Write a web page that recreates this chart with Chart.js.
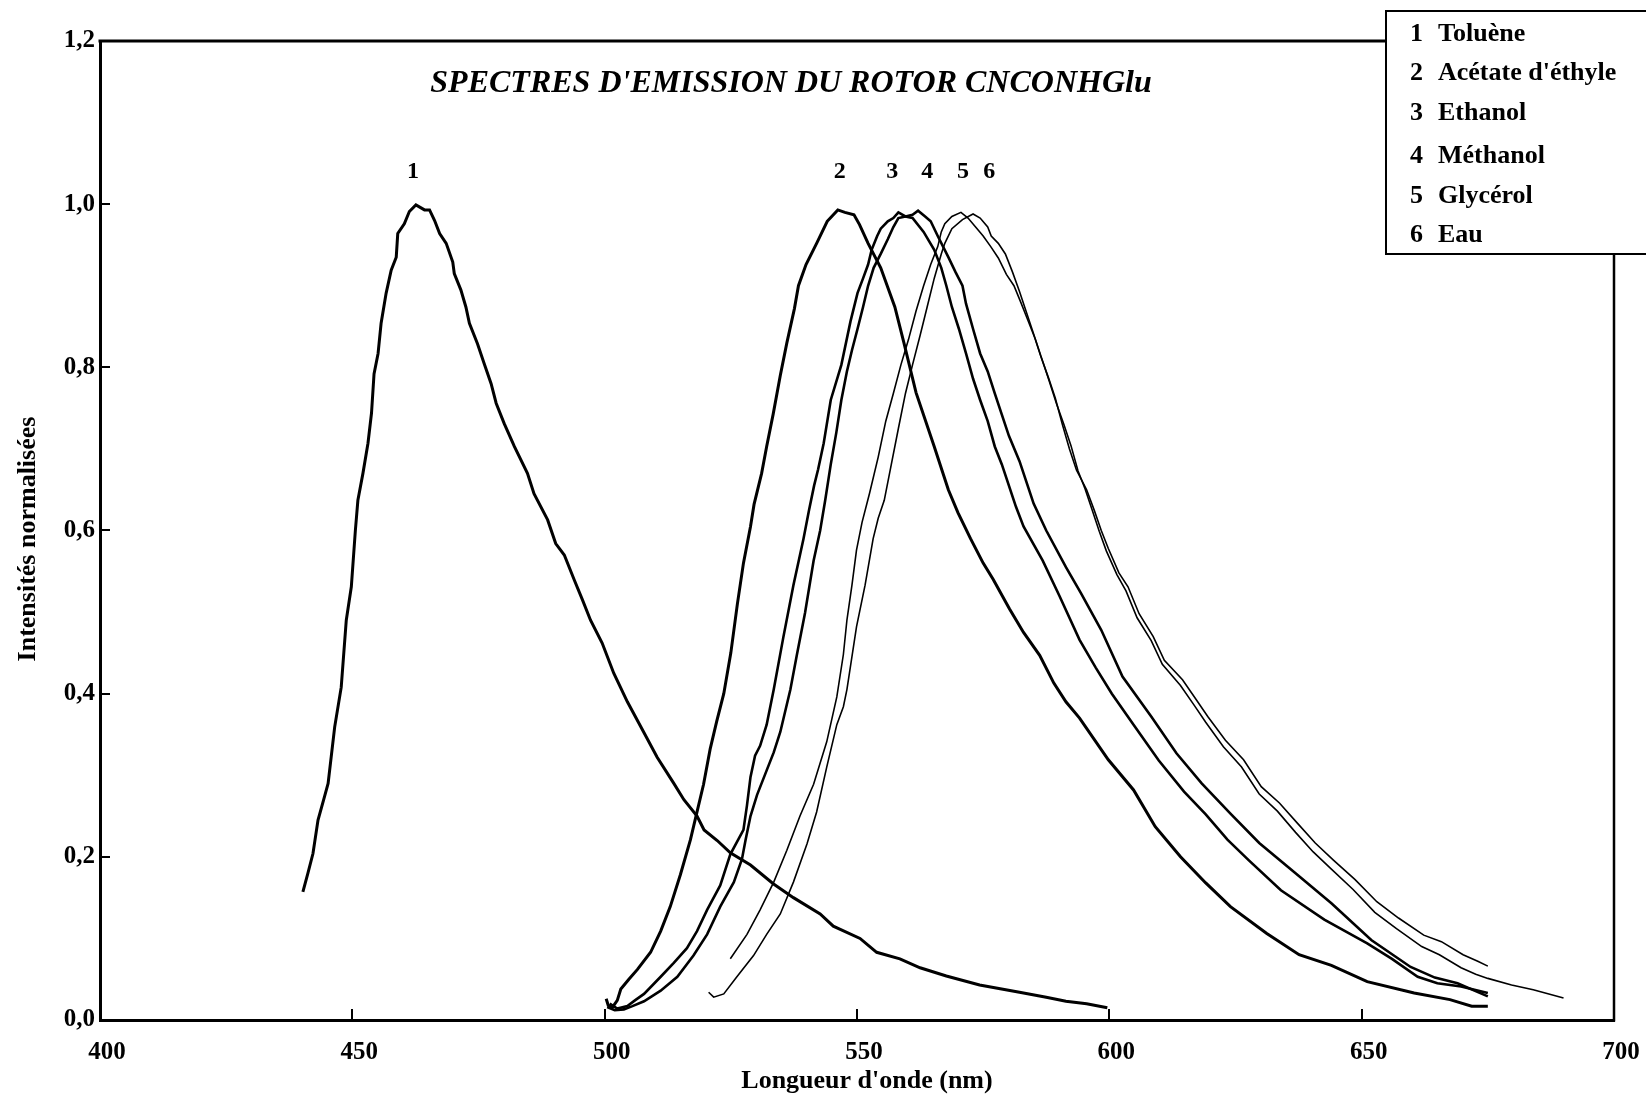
<!DOCTYPE html>
<html lang="fr">
<head>
<meta charset="utf-8">
<title>Spectres d'émission du rotor CNCONHGlu</title>
<script src="https://cdn.jsdelivr.net/npm/chart.js@4.4.1/dist/chart.umd.min.js"></script>
<style>
  html, body { margin: 0; padding: 0; background: #fff; }
  #chart { display: block; }
</style>
</head>
<body>
<canvas id="chart" width="1646" height="1099"></canvas>
<script>
// Values: [wavelength (nm), normalised intensity]
const toluene = [
  [440.2,0.157],[441.2,0.180],[442.2,0.204],[443.2,0.245],[444.5,0.274],[445.2,0.290],[446.5,0.359],
  [447.8,0.408],[448.8,0.490],[449.8,0.531],[450.6,0.600],[451.1,0.637],[452.1,0.670],[453.1,0.707],
  [453.8,0.744],[454.3,0.792],[455.1,0.817],[455.7,0.854],[456.7,0.891],[457.7,0.919],[458.7,0.935],
  [459.0,0.964],[460.3,0.976],[461.3,0.991],[462.6,0.999],[464.3,0.993],[465.3,0.993],[466.3,0.980],
  [467.3,0.964],[468.6,0.952],[469.9,0.929],[470.2,0.915],[471.5,0.895],[472.5,0.874],[473.2,0.854],
  [474.8,0.829],[476.1,0.805],[477.5,0.780],[478.5,0.756],[480.1,0.731],[482.1,0.703],[484.7,0.670],
  [486.0,0.645],[488.7,0.613],[490.3,0.584],[492.0,0.570],[494.0,0.539],[495.6,0.515],[497.2,0.490],
  [499.5,0.462],[501.8,0.425],[504.5,0.390],[507.8,0.352],[510.4,0.322],[513.7,0.290],[515.7,0.270],
  [518.3,0.250],[519.7,0.233],[522.3,0.220],[524.9,0.205],[528.9,0.190],[533.4,0.167],[537.4,0.150],
  [542.7,0.130],[545.3,0.115],[550.6,0.100],[553.9,0.083],[558.5,0.075],[562.5,0.064],[567.7,0.054],
  [574.3,0.043],[582.2,0.034],[587.5,0.028],[591.4,0.023],[595.5,0.020],[599.6,0.015]
];

const acetateEthyle = [
  [500.3,0.026],[500.7,0.018],[501.6,0.016],[502.5,0.024],[503.2,0.038],[504.8,0.050],[506.5,0.062],
  [509.1,0.083],[511.1,0.109],[513.0,0.139],[515.0,0.178],[517.0,0.221],[518.3,0.255],[519.6,0.289],
  [520.9,0.332],[522.2,0.366],[523.6,0.400],[525.0,0.450],[526.3,0.510],[527.5,0.560],[528.9,0.605],
  [529.6,0.632],[531.1,0.670],[532.1,0.703],[533.4,0.743],[534.8,0.790],[536.1,0.830],[537.6,0.872],
  [538.4,0.900],[539.9,0.926],[542.0,0.952],[544.1,0.979],[546.2,0.993],[547.6,0.990],[549.4,0.987],
  [550.5,0.975],[552.2,0.952],[554.7,0.922],[557.5,0.874],[559.3,0.830],[561.7,0.769],[565.3,0.703],
  [568.1,0.650],[570.0,0.622],[572.5,0.590],[575.0,0.560],[577.0,0.540],[580.2,0.504],[583.0,0.475],
  [586.2,0.447],[589.0,0.413],[591.4,0.390],[594.1,0.370],[599.8,0.319],[604.8,0.282],[609.1,0.237],
  [614.1,0.200],[619.1,0.168],[624.0,0.139],[631.2,0.106],[637.6,0.080],[644.0,0.067],[651.1,0.047],
  [660.4,0.033],[667.5,0.025],[671.8,0.017],[675.0,0.017]
];

const ethanol = [
  [501.0,0.020],[502.5,0.014],[504.5,0.017],[506.0,0.024],[507.8,0.032],[511.1,0.053],[513.7,0.070],
  [516.3,0.088],[518.3,0.109],[520.3,0.135],[522.9,0.165],[524.9,0.203],[527.5,0.233],[528.2,0.263],
  [528.9,0.298],[529.8,0.324],[530.8,0.336],[532.1,0.362],[533.5,0.405],[535.4,0.469],[537.4,0.533],
  [539.4,0.590],[540.5,0.625],[541.5,0.655],[542.3,0.675],[543.4,0.707],[544.8,0.760],[546.9,0.803],
  [548.7,0.856],[550.1,0.891],[551.2,0.909],[552.2,0.926],[552.9,0.944],[554.0,0.961],[554.7,0.970],
  [556.1,0.979],[557.2,0.983],[558.2,0.990],[559.6,0.985],[561.0,0.983],[563.2,0.966],[565.3,0.944],
  [566.7,0.922],[567.7,0.900],[568.8,0.874],[570.2,0.847],[571.6,0.817],[573.0,0.786],[574.4,0.760],
  [575.9,0.734],[577.3,0.703],[578.7,0.681],[580.1,0.655],[581.5,0.629],[583.0,0.605],[586.8,0.563],
  [590.1,0.520],[594.1,0.466],[597.3,0.432],[600.5,0.400],[604.8,0.362],[609.8,0.318],[614.8,0.280],
  [619.1,0.252],[623.4,0.221],[627.6,0.196],[634.0,0.159],[642.6,0.123],[651.1,0.094],[656.0,0.075],
  [661.1,0.053],[665.0,0.045],[669.7,0.041],[675.0,0.033]
];

const methanol = [
  [500.5,0.016],[502.0,0.012],[503.8,0.013],[505.5,0.017],[507.8,0.023],[511.1,0.036],[514.4,0.053],
  [517.6,0.079],[520.3,0.105],[522.9,0.139],[525.6,0.169],[527.2,0.197],[527.9,0.220],[528.9,0.250],
  [530.2,0.276],[532.1,0.306],[533.5,0.328],[534.8,0.353],[536.8,0.405],[538.1,0.448],[539.7,0.499],
  [541.4,0.563],[542.7,0.600],[543.7,0.637],[544.8,0.681],[545.9,0.720],[546.9,0.760],[548.0,0.795],
  [549.0,0.821],[550.1,0.847],[551.2,0.874],[552.2,0.900],[553.3,0.922],[554.7,0.939],[556.1,0.957],
  [557.2,0.972],[558.2,0.983],[559.6,0.985],[561.0,0.987],[562.1,0.992],[563.5,0.985],[564.6,0.979],
  [566.0,0.961],[568.1,0.935],[569.5,0.917],[570.9,0.900],[571.6,0.878],[573.0,0.847],[574.4,0.817],
  [575.9,0.795],[577.3,0.768],[578.7,0.742],[580.1,0.716],[582.2,0.685],[583.6,0.659],[585.0,0.633],
  [587.5,0.600],[591.4,0.555],[594.4,0.523],[598.4,0.478],[602.6,0.421],[608.3,0.372],[613.3,0.327],
  [618.3,0.290],[624.0,0.253],[629.7,0.217],[636.9,0.180],[644.0,0.143],[651.9,0.098],[659.7,0.065],
  [664.5,0.052],[669.0,0.045],[675.0,0.029]
];

const glycerol = [
  [524.9,0.075],[528.2,0.105],[530.8,0.135],[533.5,0.169],[536.1,0.208],[538.7,0.250],[541.4,0.289],
  [544.0,0.341],[546.0,0.396],[547.3,0.448],[548.0,0.490],[549.0,0.533],[549.9,0.576],[551.0,0.610],
  [552.5,0.646],[554.2,0.690],[555.7,0.734],[557.2,0.768],[558.7,0.803],[560.2,0.834],[561.7,0.869],
  [563.2,0.900],[564.6,0.926],[566.0,0.948],[566.7,0.966],[567.4,0.976],[568.8,0.985],[570.6,0.990],
  [572.0,0.983],[573.5,0.972],[575.0,0.961],[576.5,0.948],[578.0,0.934],[579.6,0.914],[581.1,0.900],
  [582.5,0.879],[583.9,0.857],[585.3,0.835],[586.7,0.809],[588.1,0.783],[589.5,0.756],[591.0,0.730],
  [592.4,0.704],[593.8,0.673],[595.2,0.651],[596.6,0.625],[598.0,0.599],[599.4,0.575],[601.5,0.546],
  [603.3,0.526],[605.5,0.493],[608.3,0.465],[610.5,0.436],[614.1,0.410],[616.9,0.385],[619.1,0.365],
  [622.6,0.335],[626.2,0.310],[629.7,0.277],[633.3,0.256],[636.9,0.230],[640.4,0.206],[644.0,0.185],
  [648.3,0.160],[652.6,0.132],[656.9,0.112],[661.9,0.090],[665.4,0.080],[669.7,0.064],[672.6,0.056],
  [675.0,0.051],[679.7,0.043],[684.0,0.037],[690.0,0.027]
];

const eau = [
  [520.6,0.034],[521.6,0.028],[523.6,0.032],[526.2,0.053],[529.5,0.079],[532.1,0.105],[534.8,0.130],
  [537.4,0.169],[540.1,0.216],[542.0,0.255],[544.0,0.310],[546.0,0.362],[547.3,0.384],[548.0,0.405],
  [549.9,0.482],[551.6,0.533],[553.2,0.590],[554.2,0.615],[555.4,0.637],[556.8,0.681],[558.2,0.725],
  [559.6,0.768],[561.0,0.803],[562.5,0.839],[563.9,0.874],[565.3,0.909],[566.7,0.939],[567.4,0.952],
  [568.8,0.970],[570.9,0.981],[573.0,0.988],[574.4,0.983],[575.9,0.972],[576.6,0.961],[578.0,0.952],
  [579.4,0.939],[580.8,0.917],[582.2,0.893],[583.6,0.867],[585.0,0.841],[586.4,0.814],[587.9,0.788],
  [589.3,0.762],[590.7,0.730],[592.1,0.700],[593.5,0.674],[595.5,0.650],[597.0,0.625],[598.4,0.600],
  [599.8,0.578],[601.9,0.548],[603.7,0.531],[605.9,0.498],[608.7,0.470],[610.9,0.441],[614.5,0.417],
  [617.3,0.392],[619.5,0.372],[623.0,0.343],[626.6,0.319],[630.1,0.286],[633.7,0.266],[637.3,0.241],
  [640.8,0.217],[644.4,0.196],[648.7,0.172],[653.0,0.145],[657.3,0.125],[662.3,0.104],[665.8,0.096],
  [670.1,0.080],[673.0,0.072],[675.0,0.066]
];

const solventNames = ['Toluène', "Acétate d'éthyle", 'Ethanol', 'Méthanol', 'Glycérol', 'Eau'];
const spectra = [toluene, acetateEthyle, ethanol, methanol, glycerol, eau];
const lineWidths = [3, 3, 2.6, 2.6, 1.6, 1.6];

// where the curve numbers sit above the peaks (nm, intensity)
const peakLabelX = [462.0, 546.6, 557.0, 563.9, 571.0, 576.2];
const peakLabelY = 1.04;

const xMin = 400, xMax = 700, xStep = 50;
const yMin = 0, yMax = 1.2, yStep = 0.2;

const SERIF = "'Liberation Serif', 'Times New Roman', serif";
const frLabel = v => v.toFixed(1).replace('.', ',');

// frame, inward ticks, titles, peak numbers and the boxed legend
const decorations = {
    id: 'decorations',
    afterDraw(chart) {
        const { ctx, chartArea, scales } = chart;
        const x = scales.x, y = scales.y;
        const legendBox = { left: 1386, top: 11, bottom: 254 };

        ctx.save();
        ctx.strokeStyle = '#000';
        ctx.fillStyle = '#000';

        // small ticks pointing into the plot
        ctx.lineWidth = 2;
        ctx.beginPath();
        for (let v = xMin + xStep; v < xMax; v += xStep) {
            const px = Math.round(x.getPixelForValue(v));
            ctx.moveTo(px, chartArea.bottom);
            ctx.lineTo(px, chartArea.bottom - 11);
        }
        for (let v = yMin + yStep; v < yMax - 0.01; v += yStep) {
            const py = Math.round(y.getPixelForValue(v));
            ctx.moveTo(chartArea.left, py);
            ctx.lineTo(chartArea.left + 10, py);
        }
        ctx.stroke();

        // top edge runs into the legend box, right edge starts below it
        ctx.lineWidth = 3;
        ctx.beginPath();
        ctx.moveTo(chartArea.left - 1.5, chartArea.top);
        ctx.lineTo(legendBox.left, chartArea.top);
        ctx.stroke();
        ctx.lineWidth = 2.5;
        ctx.beginPath();
        ctx.moveTo(chartArea.right, legendBox.bottom);
        ctx.lineTo(chartArea.right, chartArea.bottom + 1.5);
        ctx.stroke();

        // legend box (right side runs off the page, as in the scan)
        ctx.lineWidth = 2;
        ctx.fillStyle = '#fff';
        ctx.fillRect(legendBox.left, legendBox.top, chart.width, legendBox.bottom - legendBox.top);
        ctx.strokeRect(legendBox.left, legendBox.top, chart.width, legendBox.bottom - legendBox.top);
        ctx.fillStyle = '#000';
        ctx.font = `bold 26px ${SERIF}`;
        ctx.textBaseline = 'middle';
        ctx.textAlign = 'left';
        const rowY = [34, 73, 113, 156, 196, 235];
        solventNames.forEach((name, i) => {
            ctx.fillText(String(i + 1), 1410, rowY[i]);
            ctx.fillText(name, 1438, rowY[i]);
        });

        // title inside the plot
        ctx.font = `italic bold 32px ${SERIF}`;
        ctx.textAlign = 'center';
        ctx.fillText("SPECTRES D'EMISSION DU ROTOR CNCONHGlu", 791, 84);

        // axis titles (placed as in the scan, slightly off-centre)
        ctx.font = `bold 26px ${SERIF}`;
        ctx.fillText("Longueur d'onde (nm)", 867, 1081);
        ctx.save();
        ctx.translate(28, 539);
        ctx.rotate(-Math.PI / 2);
        ctx.fillText('Intensités normalisées', 0, 0);
        ctx.restore();

        // curve numbers
        ctx.font = `bold 24px ${SERIF}`;
        peakLabelX.forEach((v, i) => {
            ctx.fillText(String(i + 1), x.getPixelForValue(v), y.getPixelForValue(peakLabelY));
        });

        ctx.restore();
    }
};

const tickFont = { family: SERIF, size: 25, weight: 'bold' };

new Chart(document.getElementById('chart'), {
    type: 'scatter',
    data: {
        datasets: spectra.map((points, i) => ({
            label: solventNames[i],
            data: points.map(([nm, val]) => ({ x: nm, y: val })),
            showLine: true,
            borderColor: '#000',
            backgroundColor: '#000',
            borderWidth: lineWidths[i],
            pointRadius: 0,
            tension: 0,
            fill: false
        }))
    },
    options: {
        responsive: false,
        animation: false,
        devicePixelRatio: 1,
        layout: { padding: { top: 41, right: 32, left: 0, bottom: 0 } },
        plugins: {
            legend: { display: false },
            tooltip: { enabled: false },
            title: { display: false }
        },
        scales: {
            x: {
                type: 'linear',
                min: xMin,
                max: xMax,
                afterFit: (scale) => {
                    scale.height = 79;
                    scale.paddingLeft = 0;
                    scale.paddingRight = 0;
                },
                grid: { drawOnChartArea: false, drawTicks: false },
                border: { color: '#000', width: 3 },
                ticks: {
                    stepSize: xStep,
                    maxRotation: 0,
                    padding: 18,
                    labelOffset: 7,
                    color: '#000',
                    font: tickFont
                },
                title: { display: false }
            },
            y: {
                min: yMin,
                max: yMax,
                afterFit: (scale) => { scale.width = 100; },
                grid: { drawOnChartArea: false, drawTicks: false },
                border: { color: '#000', width: 3 },
                ticks: {
                    stepSize: yStep,
                    padding: 5,
                    color: '#000',
                    font: tickFont,
                    callback: (value) => frLabel(value)
                },
                title: { display: false }
            }
        }
    },
    plugins: [decorations]
});
</script>
</body>
</html>
